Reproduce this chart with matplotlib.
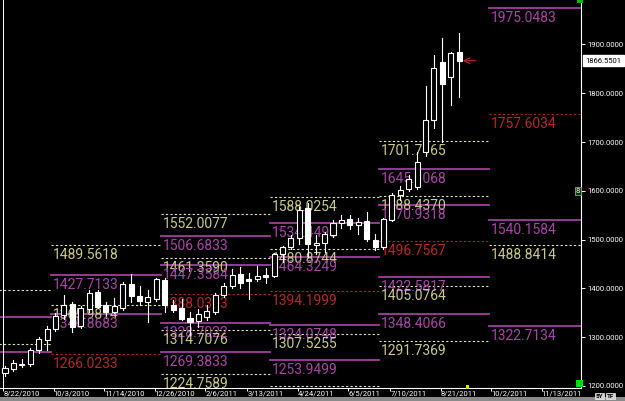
import matplotlib
matplotlib.use("Agg")
import matplotlib.pyplot as plt
import matplotlib.transforms as mtrans
from matplotlib.patches import Rectangle
import numpy as np
import pandas as pd

# weekly bars, first bar = week of 8/22/2010
start = pd.Timestamp("2010-08-22")
opens = [1226, 1234, 1243, 1246, 1273, 1295, 1316, 1346, 1368, 1323, 1357, 1392, 1366, 1352,
         1360, 1410, 1385, 1373, 1378, 1418, 1366, 1360, 1340, 1333, 1342, 1352, 1387, 1404,
         1430, 1420, 1419, 1427, 1426, 1471, 1484, 1503, 1565, 1489, 1493, 1510, 1535, 1542,
         1529, 1539, 1500, 1485, 1541, 1592, 1603, 1608, 1680, 1745, 1864, 1833, 1884]
highs = [1241, 1253, 1256, 1277, 1300, 1322, 1350, 1386, 1372, 1363, 1397, 1396, 1372, 1380,
         1413, 1430, 1405, 1396, 1422, 1421, 1376, 1378, 1352, 1358, 1366, 1390, 1412, 1440,
         1444, 1432, 1446, 1442, 1473, 1487, 1509, 1567, 1575, 1510, 1516, 1540, 1550, 1550,
         1545, 1556, 1512, 1545, 1596, 1610, 1632, 1680, 1815, 1878, 1913, 1884, 1923]
lows = [1220, 1230, 1239, 1241, 1267, 1273, 1313, 1338, 1311, 1318, 1352, 1360, 1346, 1349,
        1355, 1372, 1366, 1331, 1375, 1352, 1352, 1335, 1305, 1321, 1336, 1348, 1382, 1401,
        1401, 1378, 1415, 1411, 1424, 1454, 1480, 1490, 1465, 1470, 1475, 1505, 1523, 1521,
        1512, 1497, 1478, 1480, 1538, 1582, 1600, 1604, 1672, 1729, 1700, 1776, 1792]
closes = [1237, 1247, 1246, 1274, 1296, 1317, 1344, 1366, 1321, 1359, 1390, 1362, 1352, 1363,
          1410, 1385, 1374, 1382, 1420, 1366, 1356, 1337, 1331, 1348, 1354, 1387, 1405, 1427,
          1412, 1415, 1426, 1424, 1470, 1484, 1503, 1560, 1490, 1493, 1512, 1535, 1541, 1530,
          1537, 1502, 1484, 1542, 1591, 1601, 1625, 1659, 1745, 1852, 1819, 1882, 1866.55]
last_price = 1866.5501

tick_labels = ["8/22/2010", "10/3/2010", "11/14/2010", "12/26/2010", "2/6/2011", "3/13/2011",
               "4/24/2011", "6/5/2011", "7/10/2011", "8/21/2011", "10/2/2011", "11/13/2011"]
price_ticks = [1200, 1300, 1400, 1500, 1600, 1700, 1800, 1900]

# quarterly levels (M = magenta solid, Y = yellow dotted, R = red dotted)
quarter_starts = ["2010-07-01", "2010-10-01", "2011-01-01", "2011-04-01", "2011-07-01",
                  "2011-10-01", "2012-01-01"]
q3_2010 = [1396.2, 1341.4, 1286.6, 1269.7]
q3_2010_kind = "YMYM"
q4_2010 = [1489.5618, 1427.7133, 1365.9814, 1346.8683, 1266.0233]
q4_2010_kind = "YMYMR"
q1_2011 = [1552.0077, 1506.6833, 1461.3590, 1447.3584, 1388.0303, 1328.7022, 1314.7076,
           1269.3833, 1224.7589]
q1_2011_kind = "YMYMRMYMY"
q2_2011 = [1588.0254, 1534.4498, 1480.8744, 1464.3249, 1394.1999, 1324.0748, 1307.5255,
           1253.9499, 1200.3744]
q2_2011_kind = "YMYMRMYMY"
q3_2011 = [1701.7165, 1645.1068, 1588.4370, 1570.9318, 1496.7567, 1422.5817, 1405.0764,
           1348.4066, 1291.7369]
q3_2011_kind = "YMYMRMYMY"
q4_2011 = [1975.0483, 1757.6034, 1540.1584, 1488.8414, 1322.7134]
q4_2011_kind = "MRMYM"
quarters = [(q3_2010, q3_2010_kind), (q4_2010, q4_2010_kind), (q1_2011, q1_2011_kind),
            (q2_2011, q2_2011_kind), (q3_2011, q3_2011_kind), (q4_2011, q4_2011_kind)]

font = "Roboto"


def bar_pos(d):
    return (pd.Timestamp(d) - start).days / 7.0


fig = plt.figure(figsize=(6.25, 4.01), dpi=100, facecolor="black")
ax = fig.add_axes([0, 13 / 401, 581 / 625, 388 / 401])
ax.set_facecolor("black")
ax.set_xlim(-0.595, 68.49)
ax.set_ylim(1195.9, 1991.0)

# levels: each quarter starts between the last bar of the old one and the first of the new one
line_style = {"M": dict(color="#A040A0", lw=1.3, ls="-"),
              "Y": dict(color="#E4E4BC", lw=0.8, ls=(0, (2, 2))),
              "R": dict(color="#B02424", lw=0.8, ls=(0, (2, 2)))}
text_color = {"M": "#A846A8", "Y": "#CACA8A", "R": "#B42828"}
below = ax.transData + mtrans.ScaledTranslation(2 / 100, -3 / 100, fig.dpi_scale_trans)
q_pos = [np.ceil(bar_pos(d)) - 0.5 for d in quarter_starts]
for qi, (vals, kinds) in enumerate(quarters):
    x0, x1 = q_pos[qi], q_pos[qi + 1]
    for v, k in zip(vals, kinds):
        ax.plot([x0, x1], [v, v], zorder=2, **line_style[k])
        if x0 < ax.get_xlim()[0]:
            continue  # label of the quarter that started before the chart is off screen
        ax.text(x0, v, f"{v:.4f}", transform=below, color=text_color[k], fontsize=10,
                family=font, va="top", ha="left", zorder=3, clip_on=True)

# candles: hollow = up, filled = down
for i in range(len(opens)):
    o, h, l, c = opens[i], highs[i], lows[i], closes[i]
    ax.plot([i, i], [l, h], color="white", lw=0.8, zorder=5)
    up = c >= o
    ax.add_patch(Rectangle((i - 0.3, min(o, c)), 0.6, max(abs(c - o), 1.0),
                           facecolor="black" if up else "white", edgecolor="white",
                           lw=0.8, zorder=6))

ax.axvline(-0.24, color="white", lw=0.7, zorder=4)

# current price arrow
ax.annotate("", xy=(len(opens) - 1 + 0.45, last_price), xytext=(len(opens) + 1.0, last_price),
            arrowprops=dict(arrowstyle="->", color="#C82020", lw=0.8, shrinkA=0, shrinkB=0),
            zorder=7)

for s in ["top", "left"]:
    ax.spines[s].set_visible(False)
for s in ["right", "bottom"]:
    ax.spines[s].set_color("white")
    ax.spines[s].set_linewidth(0.8)

ax.yaxis.tick_right()
ax.set_yticks(price_ticks)
ax.set_yticklabels([f"{p:.4f}" for p in price_ticks], family=font)
ax.tick_params(axis="y", colors="white", labelsize=5.5, length=3, width=0.7, pad=1.5)

ax.set_xticks([bar_pos(pd.to_datetime(t, format="%m/%d/%Y")) - 0.2 for t in tick_labels])
ax.set_xticklabels(tick_labels, ha="left", family=font)
ax.tick_params(axis="x", colors="white", labelsize=5.5, length=2, width=0.7, pad=0)

yx = mtrans.blended_transform_factory(ax.transAxes, ax.transData)
ax.text(1.008, last_price, f"{last_price:.4f}", transform=yx, fontsize=5.5, family=font,
        color="black", va="center", ha="left", clip_on=False,
        bbox=dict(boxstyle="square,pad=0.3", facecolor="white", edgecolor="white"))
ax.text(0.995, 1600, "8", transform=yx, fontsize=5, color="white", va="center", ha="center",
        clip_on=False, bbox=dict(boxstyle="square,pad=0.15", facecolor="#103010", edgecolor="#60C060", lw=0.6))

# small widgets of the trading window
fig.patches.append(Rectangle((576 / 625, 14 / 401), 7 / 625, 7 / 401, transform=fig.transFigure,
                             facecolor="#00E000", edgecolor="none"))
fig.patches.append(Rectangle((577 / 625, 398 / 401), 6 / 625, 3 / 401, transform=fig.transFigure,
                             facecolor="#00C000", edgecolor="none"))
fig.patches.append(Rectangle((466 / 625, 12 / 401), 3 / 625, 4 / 401, transform=fig.transFigure,
                             facecolor="#E0E000", edgecolor="none"))
fig.patches.append(Rectangle((0, 0), 1, 4 / 401, transform=fig.transFigure,
                             facecolor="#8A8A8A", edgecolor="none"))
for bx, lab in [(596, "5Y"), (607, "TF")]:
    fig.text(bx / 625, 5 / 401, lab, fontsize=4.5, family=font, color="black", weight="bold",
             va="center", ha="left",
             bbox=dict(boxstyle="square,pad=0.15", facecolor="#D0D0D0", edgecolor="#F0F0F0", lw=0.5))

fig.savefig("out.png", dpi=100, facecolor="black")
